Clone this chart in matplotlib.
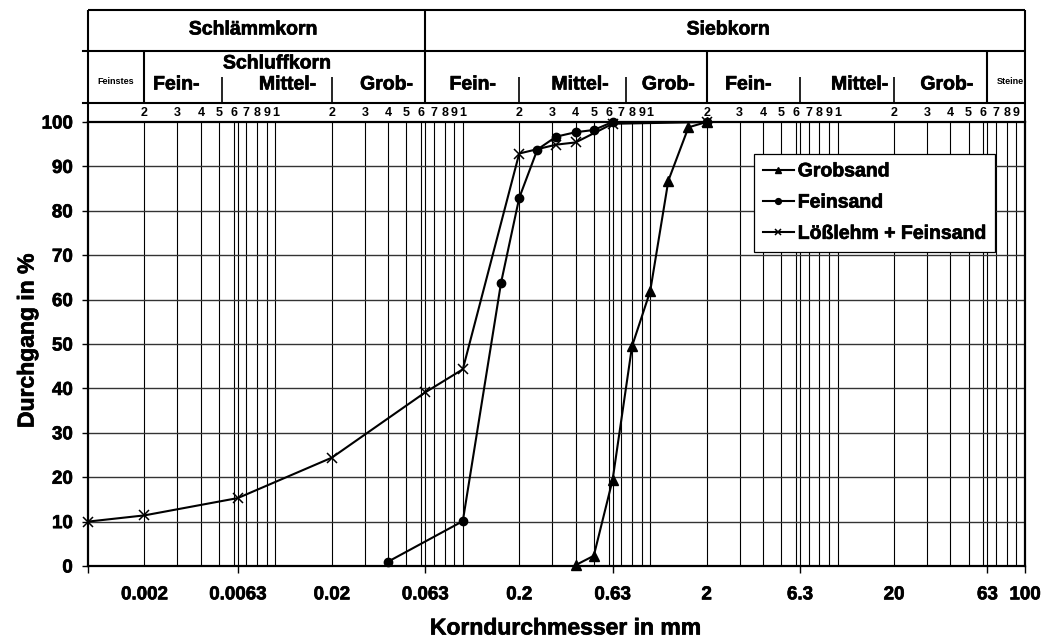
import matplotlib
matplotlib.use('Agg')
import matplotlib.pyplot as plt
import matplotlib.patheffects as pe

plt.rcParams['font.family'] = ['Liberation Sans', 'DejaVu Sans']
plt.rcParams['font.weight'] = 'bold'

# Sieblinien (Korndurchmesser in mm, Durchgang in %)
grob_d = [0.4, 0.5, 0.63, 0.8, 1.0, 1.25, 1.6, 2.0]
grob_p = [0.2, 2.3, 19.4, 49.5, 61.9, 86.8, 98.8, 100.0]

fein_d = [0.04, 0.1, 0.16, 0.2, 0.25, 0.315, 0.4, 0.5, 0.63, 2.0]
fein_p = [1.0, 10.1, 63.8, 82.9, 93.8, 96.7, 97.7, 98.2, 100.0, 100.0]

loess_d = [0.001, 0.002, 0.0063, 0.02, 0.063, 0.1, 0.2, 0.315, 0.4, 0.63, 2.0]
loess_p = [10.0, 11.4, 15.3, 24.4, 39.1, 44.3, 92.9, 94.9, 95.4, 99.6, 100.0]

# Achsenbeschriftung unten
xlab_pos = [0.002, 0.0063, 0.02, 0.063, 0.2, 0.63, 2, 6.3, 20, 63, 100]
xlab_txt = ['0.002', '0.0063', '0.02', '0.063', '0.2', '0.63', '2', '6.3', '20', '63', '100']
xtick_pos = [0.001, 0.0063, 0.063, 0.63, 6.3, 63, 100]
decades = [0.001, 0.01, 0.1, 1, 10]

# Kopfleiste: Bodenarten und ihre Lage auf der Achse
haupt = [('Schlämmkorn', 0.00763), ('Siebkorn', 2.61)]
unter = [('Fein-', 0.00296), ('Mittel-', 0.0116), ('Grob-', 0.0392),
         ('Fein-', 0.113), ('Mittel-', 0.422), ('Grob-', 1.25),
         ('Fein-', 3.34), ('Mittel-', 13.1), ('Grob-', 38.3)]

W, H = 1045, 639
fett = [pe.withStroke(linewidth=0.5, foreground='black')]


def rect(x0, y0, x1, y1):
    return [x0 / W, 1 - y1 / H, (x1 - x0) / W, (y1 - y0) / H]


fig = plt.figure(figsize=(W / 100, H / 100), dpi=100)

ax = fig.add_axes(rect(88, 122, 1025, 566))
ax.set_xscale('log')
ax.set_xlim(0.001, 100)
ax.set_ylim(0, 100)

# Gitter
for d in decades:
    for m in [1, 2, 3, 4, 5, 6, 6.3, 7, 8, 9]:
        if m * d > 0.001:
            ax.axvline(m * d, color='black', lw=0.8, zorder=1)
for y in range(10, 100, 10):
    ax.axhline(y, color='#333333', lw=1.0, zorder=1)

kw = dict(color='black', lw=1.5, clip_on=False, zorder=3)
ax.plot(grob_d, grob_p, marker='^', ms=7, label='Grobsand', **kw)
ax.plot(fein_d, fein_p, marker='o', ms=6, label='Feinsand', **kw)
ax.plot(loess_d, loess_p, marker='x', ms=7, mew=1.1, label='Lößlehm + Feinsand', **kw)

for s in ax.spines.values():
    s.set_linewidth(1.6)
    s.set_color('black')

ax.set_yticks(range(0, 101, 10))
ax.tick_params(axis='y', length=4, width=1, pad=7, labelsize=13.5)
for lbl in ax.get_yticklabels():
    lbl.set_path_effects(fett)
ax.set_xticks(xtick_pos)
ax.set_xticklabels([''] * len(xtick_pos))
ax.xaxis.set_minor_locator(plt.NullLocator())
ax.tick_params(axis='x', length=5, width=1)
for v, t in zip(xlab_pos, xlab_txt):
    ax.text(v, -0.065, t, transform=ax.get_xaxis_transform(), ha='center', va='center',
            fontsize=13.5, fontweight='bold', path_effects=fett)

fig.text(565 / W, 1 - 628 / H, 'Korndurchmesser in mm', ha='center', va='center',
         fontsize=16.5, fontweight='bold', path_effects=fett)
fig.text(27 / W, 1 - 341 / H, 'Durchgang in %', ha='center', va='center',
         rotation=90, fontsize=16.5, fontweight='bold', path_effects=fett)

leg = ax.legend(loc='upper left', bbox_to_anchor=(754 / W, 1 - 154 / H),
                bbox_transform=fig.transFigure, fancybox=False, framealpha=1,
                edgecolor='black', prop={'size': 14, 'weight': 'bold'},
                borderpad=0.45, handlelength=1.6, handletextpad=0.2,
                labelspacing=0.7, markerscale=0.7, borderaxespad=0)
leg.get_frame().set_linewidth(0.9)
for t in leg.get_texts():
    t.set_path_effects(fett)

# Kopfleiste mit Bodenarten
hd = fig.add_axes(rect(88, 10, 1025, 122))
hd.set_xscale('log')
hd.set_xlim(0.001, 100)
hd.set_ylim(122, 10)
hd.axis('off')

lk = dict(color='black', lw=1.5, clip_on=False)
hd.hlines([10, 51, 102.5], 0.001, 100, **lk)
hd.vlines([0.001, 100], 10, 122, **lk)
hd.vlines([0.063], 10, 102.5, **lk)
hd.vlines([0.002, 2, 63], 51, 102.5, **lk)
hd.vlines([0.0052, 0.02, 0.2, 0.745, 6.3, 20], 77, 102.5, color='black', lw=1.2)
hd.plot([0.00094, 0.001], [51, 51], **lk)
hd.plot([0.00094, 0.001], [102.5, 102.5], **lk)

big = dict(ha='center', va='center', fontsize=14, fontweight='bold', path_effects=fett)
for t, x in haupt:
    hd.text(x, 30, t, **big)
hd.text(0.01025, 64, 'Schluffkorn', **big)
for t, x in unter:
    hd.text(x, 85, t, **big)
small = dict(ha='center', va='center', fontsize=6.5, fontweight='bold')
hd.text(0.00141, 82, 'Feinstes', **small)
hd.text(84, 82, 'Steine', **small)

for d in decades:
    for m in range(1, 10):
        v = m * d
        if v > 0.001:
            hd.text(v, 113, str(m), ha='center', va='center', fontsize=9, fontweight='bold')

fig.savefig('out.png', dpi=100)
